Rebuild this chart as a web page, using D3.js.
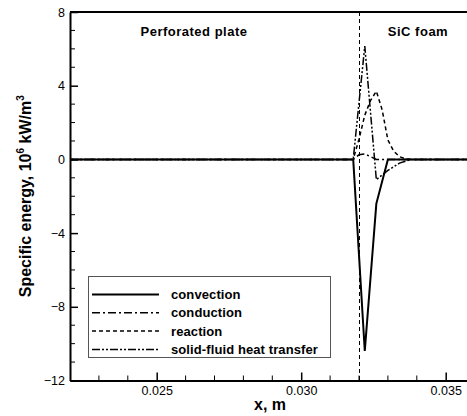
<!DOCTYPE html>
<html>
<head>
<meta charset="utf-8">
<script src="https://cdn.jsdelivr.net/npm/d3@7"></script>
<style>
  body { margin: 0; background: #fff; }
  svg { display: block; font-family: "Liberation Sans", Arial, sans-serif; }
</style>
</head>
<body>
<svg id="chart" width="467" height="416"></svg>
<script>
// values (x in m, energy in 10^6 kW/m^3)
const convection = [[0.022, 0], [0.0318, 0], [0.0322, -10.4], [0.0326, -2.4], [0.033, 0], [0.036, 0]];
const conduction = [[0.022, 0], [0.0318, 0], [0.032, 0.25], [0.0322, 0.3], [0.0324, 0.15], [0.0326, 0], [0.036, 0]];
const reaction = [[0.022, 0], [0.0318, 0], [0.032, 1.1], [0.0322, 2.4], [0.0324, 3.2], [0.0326, 3.7],
  [0.0328, 2.7], [0.033, 1.05], [0.0332, 0.45], [0.0334, 0.15], [0.0336, 0.03], [0.0338, 0], [0.036, 0]];
const solidFluid = [[0.022, 0], [0.0318, 0], [0.0322, 6.15], [0.0326, -1.1], [0.033, -0.6],
  [0.0334, -0.2], [0.0338, 0], [0.036, 0]];

const seriesNames = ["convection", "conduction", "reaction", "solid-fluid heat transfer"];
const seriesData = [convection, conduction, reaction, solidFluid];
const seriesDash = [null, "8,3,2,3", "4,3", "8,2,2,2,2,2"];
const seriesWidth = [2, 1.5, 1.5, 1.5];

const yMajor = [8, 4, 0, -4, -8, -12];
const xMajor = [0.025, 0.03, 0.035];
const xLabels = ["0.025", "0.030", "0.035"];
const interfaceX = 0.032;

const svg = d3.select("#chart");
const plotLeft = 70, plotTop = 12, plotBottom = 380.5, plotRight = 474.6;

const x = d3.scaleLinear().domain([0.022, 0.036]).range([plotLeft, plotRight]);
const y = d3.scaleLinear().domain([-12, 8]).range([plotBottom, plotTop]);

svg.append("defs").append("clipPath").attr("id", "plot")
  .append("rect").attr("x", plotLeft).attr("y", plotTop)
  .attr("width", plotRight - plotLeft).attr("height", plotBottom - plotTop);

// interface line (snapped to a pixel centre so it stays crisp)
const ix = Math.floor(x(interfaceX)) + 0.5;
svg.append("line")
  .attr("x1", ix).attr("x2", ix)
  .attr("y1", plotTop).attr("y2", plotBottom)
  .attr("stroke", "#000").attr("stroke-width", 1).attr("stroke-dasharray", "4,3");

const line = d3.line().x((d) => x(d[0])).y((d) => y(d[1]));

const curves = svg.append("g").attr("clip-path", "url(#plot)");
// draw solid last so it sits on top of the zero line
[3, 2, 1, 0].forEach((i) => {
  curves.append("path")
    .datum(seriesData[i])
    .attr("d", line)
    .attr("fill", "none")
    .attr("stroke", "#000")
    .attr("stroke-width", seriesWidth[i])
    .attr("stroke-dasharray", seriesDash[i]);
});

// axes
const yAxis = d3.axisLeft(y).tickValues(yMajor).tickFormat(d3.format("d"))
  .tickSizeInner(-8).tickSizeOuter(0).tickPadding(5);
const yG = svg.append("g").attr("transform", `translate(${plotLeft},0)`).call(yAxis);
yG.selectAll(".tick text").attr("font-size", 12.5).attr("font-family", "Liberation Sans, Arial, sans-serif");

const xAxis = d3.axisBottom(x).tickValues(xMajor).tickFormat((d, i) => xLabels[i])
  .tickSizeInner(-8).tickSizeOuter(0).tickPadding(6);
const xG = svg.append("g").attr("transform", `translate(0,${plotBottom})`).call(xAxis);
xG.selectAll(".tick text").attr("font-size", 12.5).attr("font-family", "Liberation Sans, Arial, sans-serif");

[yG, xG].forEach((g) => {
  g.select(".domain").attr("stroke-width", 2);
  g.selectAll(".tick line").attr("stroke-width", 1.5);
});

// minor ticks
const yMinor = d3.range(-11, 8, 1).filter((v) => v % 4 !== 0);
svg.append("g").selectAll("line").data(yMinor).join("line")
  .attr("x1", plotLeft).attr("x2", plotLeft + 5)
  .attr("y1", (d) => y(d)).attr("y2", (d) => y(d))
  .attr("stroke", "#000").attr("stroke-width", 1);

const xMinor = d3.range(23, 36, 1).filter((v) => v % 5 !== 0).map((v) => v / 1000);
svg.append("g").selectAll("line").data(xMinor).join("line")
  .attr("x1", (d) => x(d)).attr("x2", (d) => x(d))
  .attr("y1", plotBottom).attr("y2", plotBottom - 5)
  .attr("stroke", "#000").attr("stroke-width", 1);

// top frame line
svg.append("line").attr("x1", plotLeft).attr("x2", plotRight).attr("y1", plotTop).attr("y2", plotTop)
  .attr("stroke", "#000").attr("stroke-width", 2);

// region labels
svg.append("text").attr("x", 194).attr("y", 36).attr("text-anchor", "middle")
  .attr("font-size", 13).attr("letter-spacing", 0.5).attr("font-weight", "bold").text("Perforated plate");
svg.append("text").attr("x", 418).attr("y", 36).attr("text-anchor", "middle")
  .attr("font-size", 13).attr("letter-spacing", 0.5).attr("font-weight", "bold").text("SiC foam");

// axis titles
svg.append("text").attr("x", 270).attr("y", 410).attr("text-anchor", "middle")
  .attr("font-size", 16).attr("font-weight", "bold").text("x, m");

const yTitle = svg.append("text")
  .attr("transform", `translate(31,${(plotTop + plotBottom) / 2}) rotate(-90)`)
  .attr("text-anchor", "middle").attr("font-size", 16).attr("font-weight", "bold");
yTitle.append("tspan").text("Specific energy, 10");
yTitle.append("tspan").attr("font-size", 10).attr("dy", -7).text("6");
yTitle.append("tspan").attr("dy", 7).text(" kW/m");
yTitle.append("tspan").attr("font-size", 10).attr("dy", -7).text("3");

// legend
const legend = svg.append("g");
legend.append("rect").attr("x", 88.5).attr("y", 276.5).attr("width", 242).attr("height", 81)
  .attr("fill", "#fff").attr("stroke", "#555").attr("stroke-width", 1);
seriesNames.forEach((name, i) => {
  const cy = 294.5 + i * 18.3;
  legend.append("line").attr("x1", 92).attr("x2", 159).attr("y1", cy).attr("y2", cy)
    .attr("stroke", "#000").attr("stroke-width", seriesWidth[i])
    .attr("stroke-dasharray", seriesDash[i]);
  legend.append("text").attr("x", 171).attr("y", cy + 4.5)
    .attr("font-size", 13).attr("letter-spacing", 0.1).attr("font-weight", "bold").text(name);
});
</script>
</body>
</html>
